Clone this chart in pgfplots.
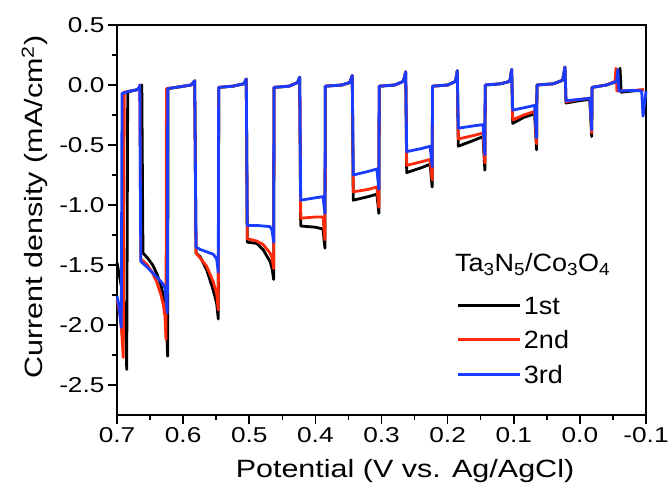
\documentclass[border=0pt]{standalone}
\usepackage{fontspec}
\setmainfont{Liberation Sans}[FakeStretch=1.22]
\newfontfamily\legfont{Liberation Sans}[FakeStretch=1.08]
\usepackage{pgfplots}
\usepackage{pgfplotstable}
\pgfplotsset{compat=1.18}
\definecolor{cycred}{HTML}{FF2A0A}
\definecolor{cycblue}{HTML}{1A3CFF}

% chopped-light sweeps, V vs Ag/AgCl and mA/cm^2
\pgfplotstableread{
x y
0.7000 -1.48
0.6960 -1.60
0.6920 -1.72
0.6885 -1.85
0.6865 -2.05
0.6853 -2.37
0.6838 -0.06
0.6780 -0.05
0.6700 -0.04
0.6650 -0.02
0.6625 0.00
0.6607 -1.40
0.6540 -1.44
0.6460 -1.50
0.6400 -1.57
0.6340 -1.66
0.6300 -1.75
0.6270 -1.87
0.6250 -2.02
0.6234 -2.26
0.6228 -0.03
0.6050 -0.015
0.5880 0.00
0.5825 0.035
0.5805 -1.40
0.5745 -1.43
0.5644 -1.54
0.5544 -1.71
0.5493 -1.82
0.5468 -1.95
0.5462 -0.02
0.5250 -0.01
0.5080 0.01
0.5045 0.05
0.5030 -1.31
0.4888 -1.32
0.4787 -1.375
0.4686 -1.47
0.4655 -1.53
0.4631 -1.62
0.4625 -0.02
0.4400 -0.01
0.4270 0.02
0.4237 0.065
0.4222 -1.175
0.4000 -1.185
0.3885 -1.20
0.3855 -1.36
0.3849 -0.01
0.3600 0.00
0.3480 0.02
0.3442 0.08
0.3427 -0.96
0.3200 -0.93
0.3070 -0.91
0.3040 -1.07
0.3034 -0.01
0.2800 0.00
0.2670 0.03
0.2634 0.11
0.2619 -0.73
0.2400 -0.69
0.2265 -0.66
0.2234 -0.85
0.2228 -0.01
0.2000 0.00
0.1880 0.03
0.1854 0.12
0.1839 -0.51
0.1600 -0.46
0.1465 -0.43
0.1437 -0.71
0.1431 0.00
0.1200 0.01
0.1060 0.03
0.1031 0.13
0.1016 -0.32
0.0850 -0.27
0.0685 -0.24
0.0655 -0.54
0.0649 0.00
0.0400 0.01
0.0260 0.04
0.0225 0.15
0.0210 -0.15
0.0000 -0.13
-0.0150 -0.12
-0.0179 -0.43
-0.0185 -0.02
-0.0400 0.00
-0.0570 0.03
-0.0607 0.14
-0.0625 -0.06
-0.0800 -0.05
-0.0950 -0.04
}\runA

\pgfplotstableread{
x y
0.7000 -1.79
0.6960 -1.90
0.6930 -2.05
0.6905 -2.27
0.6890 -0.06
0.6800 -0.05
0.6700 -0.04
0.6660 -0.02
0.6655 0.00
0.6640 -1.45
0.6540 -1.50
0.6460 -1.57
0.6400 -1.64
0.6340 -1.74
0.6300 -1.83
0.6275 -1.93
0.6259 -2.12
0.6252 -0.03
0.6050 -0.015
0.5880 0.00
0.5825 0.035
0.5805 -1.40
0.5745 -1.44
0.5644 -1.51
0.5544 -1.64
0.5493 -1.74
0.5468 -1.875
0.5462 -0.02
0.5250 -0.01
0.5080 0.01
0.5045 0.05
0.5030 -1.28
0.4888 -1.30
0.4787 -1.33
0.4686 -1.40
0.4655 -1.44
0.4631 -1.53
0.4625 -0.02
0.4400 -0.01
0.4270 0.02
0.4237 0.065
0.4222 -1.11
0.4000 -1.10
0.3885 -1.10
0.3855 -1.29
0.3849 -0.01
0.3600 0.00
0.3480 0.02
0.3442 0.08
0.3427 -0.89
0.3200 -0.87
0.3070 -0.85
0.3040 -1.02
0.3034 -0.01
0.2800 0.00
0.2670 0.03
0.2634 0.11
0.2619 -0.67
0.2400 -0.64
0.2265 -0.62
0.2234 -0.79
0.2228 -0.01
0.2000 0.00
0.1880 0.03
0.1854 0.12
0.1839 -0.45
0.1600 -0.42
0.1465 -0.40
0.1437 -0.65
0.1431 0.00
0.1200 0.01
0.1060 0.03
0.1031 0.13
0.1016 -0.29
0.0850 -0.25
0.0685 -0.22
0.0655 -0.49
0.0649 0.00
0.0400 0.01
0.0260 0.04
0.0225 0.15
0.0210 -0.14
0.0000 -0.12
-0.0150 -0.11
-0.0179 -0.40
-0.0185 -0.02
-0.0400 0.00
-0.0530 0.03
-0.0546 0.14
-0.0560 -0.05
-0.0800 -0.045
-0.0970 -0.04
}\runB

\pgfplotstableread{
x y
0.7000 -1.76
0.6965 -1.86
0.6935 -2.02
0.6924 -0.07
0.6800 -0.05
0.6700 -0.04
0.6660 -0.02
0.6655 0.00
0.6640 -1.47
0.6540 -1.52
0.6400 -1.60
0.6300 -1.66
0.6270 -1.70
0.6239 -1.90
0.6233 -0.03
0.6050 -0.015
0.5880 0.00
0.5825 0.035
0.5805 -1.35
0.5745 -1.37
0.5644 -1.39
0.5544 -1.41
0.5493 -1.45
0.5468 -1.56
0.5462 -0.02
0.5250 -0.01
0.5080 0.01
0.5045 0.05
0.5030 -1.17
0.4888 -1.17
0.4686 -1.18
0.4655 -1.21
0.4631 -1.31
0.4625 -0.02
0.4400 -0.01
0.4270 0.02
0.4237 0.065
0.4222 -0.96
0.4000 -0.94
0.3885 -0.93
0.3855 -1.07
0.3849 -0.01
0.3600 0.00
0.3480 0.02
0.3442 0.08
0.3427 -0.75
0.3200 -0.72
0.3070 -0.70
0.3040 -0.87
0.3034 -0.01
0.2800 0.00
0.2670 0.03
0.2634 0.11
0.2619 -0.555
0.2400 -0.53
0.2265 -0.51
0.2234 -0.68
0.2228 -0.01
0.2000 0.00
0.1880 0.03
0.1854 0.12
0.1839 -0.36
0.1600 -0.34
0.1465 -0.33
0.1437 -0.58
0.1431 0.00
0.1200 0.01
0.1060 0.03
0.1031 0.13
0.1016 -0.21
0.0850 -0.19
0.0685 -0.17
0.0655 -0.44
0.0649 0.00
0.0400 0.01
0.0260 0.04
0.0225 0.15
0.0210 -0.13
0.0000 -0.12
-0.0150 -0.11
-0.0179 -0.375
-0.0185 -0.02
-0.0400 0.00
-0.0555 0.03
-0.0575 0.13
-0.0590 -0.05
-0.0800 -0.045
-0.0935 -0.05
-0.0955 -0.26
-0.0990 -0.10
-0.1000 -0.05
}\runC

\begin{document}
\begin{tikzpicture}
\begin{axis}[name=ax,scale only axis,width=529pt,height=390pt,
 xmin=-0.1,xmax=0.7,x dir=reverse,ymin=-2.75,ymax=0.5,
 xtick={-0.1,0,0.1,0.2,0.3,0.4,0.5,0.6,0.7},ytick={-2.5,-2,-1.5,-1,-0.5,0,0.5},
 minor tick num=1,tick align=outside,xtick pos=left,ytick pos=left,
 major tick length=9pt,minor tick length=5pt,
 axis line style={line width=1.8pt},every tick/.style={line width=1.6pt,black},
 /pgf/number format/assume math mode=true,
 /pgf/number format/.cd,fixed,fixed zerofill,precision=1,/pgfplots/.cd,
 tick label style={font=\fontsize{21.5}{24}\selectfont},
 label style={font=\fontsize{25}{28}\selectfont},
 xlabel={Potential (V vs. Ag/AgCl)},
 ylabel={Current density (mA/cm\textsuperscript{2})},
 xlabel style={at={(axis description cs:0.5444,-0.1615)},anchor=base},
 ylabel style={at={(axis description cs:-0.1399,0.533)},anchor=base},
 legend style={at={(axis description cs:0.6408,0.305)},anchor=north west,draw=none,fill=none,
  inner sep=0pt,row sep=16.5pt,font=\legfont\fontsize{25}{28}\selectfont,
  nodes={text height=18pt,text depth=0pt,inner ysep=0pt,inner xsep=3pt}},
 legend cell align=left,
 legend image code/.code={\draw[line width=2.8pt,#1] (0pt,0pt) -- (62pt,0pt);},
 clip=false]
\addplot[black,line width=2.8pt,line join=round] table[x=x,y=y] {\runA};
\addlegendentry{1st}
\addplot[cycred,line width=2.8pt,line join=round] table[x=x,y=y] {\runB};
\addlegendentry{2nd}
\addplot[cycblue,line width=2.8pt,line join=round] table[x=x,y=y] {\runC};
\addlegendentry{3rd}
\node[anchor=base west,inner sep=0pt,font=\legfont\fontsize{25}{28}\selectfont]
 at (axis description cs:0.6389,0.3667) {Ta\textsubscript{3}N\textsubscript{5}/Co\textsubscript{3}O\textsubscript{4}};
\end{axis}
\pgfresetboundingbox
\path ([xshift=-117pt,yshift=-81pt]ax.south west) rectangle ([xshift=25pt,yshift=25pt]ax.north east);
\end{tikzpicture}
\end{document}
